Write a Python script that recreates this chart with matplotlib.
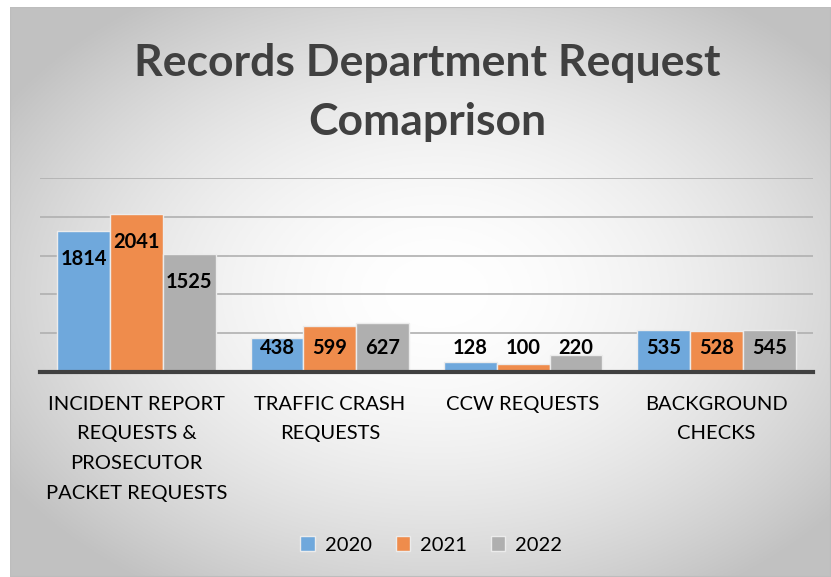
import numpy as np
import matplotlib
matplotlib.use('Agg')
import matplotlib.pyplot as plt
from matplotlib.patches import Rectangle

# Data
categories = ['INCIDENT REPORT\nREQUESTS &\nPROSECUTOR\nPACKET REQUESTS',
              'TRAFFIC CRASH\nREQUESTS',
              'CCW REQUESTS',
              'BACKGROUND\nCHECKS']
years = ['2020', '2021', '2022']
vals_2020 = [1814, 438, 128, 535]
vals_2021 = [2041, 599, 100, 528]
vals_2022 = [1525, 627, 220, 545]
colors = ['#6fa8dc', '#ef8c4c', '#afafaf']

plt.rcParams['font.family'] = ['Lato', 'DejaVu Sans']

fig = plt.figure(figsize=(8.31, 5.77), dpi=100)
fig.patch.set_facecolor('white')

# Chart area background: radial grey-to-white gradient
bg = fig.add_axes([10 / 831, 0, 821 / 831, 570 / 577], zorder=0)
yy, xx = np.mgrid[0:1:300j, 0:1:400j]
r = np.sqrt(((xx - 0.52) / 0.62) ** 2 + ((yy - 0.5) / 0.62) ** 2)
r = np.clip(r, 0, 1)
shade = 1 - 0.24 * r ** 1.8
bg.imshow(np.dstack([shade] * 3), extent=[0, 1, 0, 1], aspect='auto')
bg.add_patch(Rectangle((0, 0), 1, 1, transform=bg.transAxes, fill=False,
                       edgecolor='#bdbdbd', lw=1.5))
bg.set_axis_off()

ax = fig.add_axes([40 / 831, 0.3553, 773 / 831, 0.3362], zorder=1)
ax.patch.set_alpha(0)

x = np.arange(len(categories))
width = 0.273
series = [vals_2020, vals_2021, vals_2022]
for i, (vals, c) in enumerate(zip(series, colors)):
    pos = x + (i - 1) * width
    ax.bar(pos, vals, width, color=c, edgecolor='#ececec', linewidth=1, zorder=3,
           label=years[i])
    for p, v in zip(pos, vals):
        ax.text(p, max(v - 360, 310), str(v), ha='center', va='center',
                fontsize=14.5, fontweight='bold', color='black', zorder=4)

ax.set_xlim(-0.5, 3.5)
ax.set_ylim(0, 2500)
ax.set_yticks([500, 1000, 1500, 2000, 2500])
ax.set_yticklabels([])
ax.tick_params(axis='y', length=0)
ax.grid(axis='y', color='#b0b0b0', linewidth=1.2, zorder=0)
ax.set_axisbelow(True)
for s in ['top', 'right', 'left']:
    ax.spines[s].set_visible(False)
ax.spines['bottom'].set_color('#404040')
ax.spines['bottom'].set_linewidth(3)
ax.spines['bottom'].set_zorder(5)

ax.set_xticks(x)
ax.set_xticklabels(categories, fontsize=14.5, color='black', linespacing=1.92)
ax.tick_params(axis='x', length=0, pad=17)

fig.text(0.514, 0.840, 'Records Department Request\nComaprison', ha='center',
         va='center', fontsize=32, fontweight='bold', color='#404040',
         linespacing=1.58)

fig.legend(frameon=False, ncol=3, loc='center', bbox_to_anchor=(0.519, 0.0555),
           fontsize=14.5, handlelength=0.7, handleheight=0.7, handletextpad=0.5,
           columnspacing=1.2)

fig.savefig('out.png', dpi=100)
